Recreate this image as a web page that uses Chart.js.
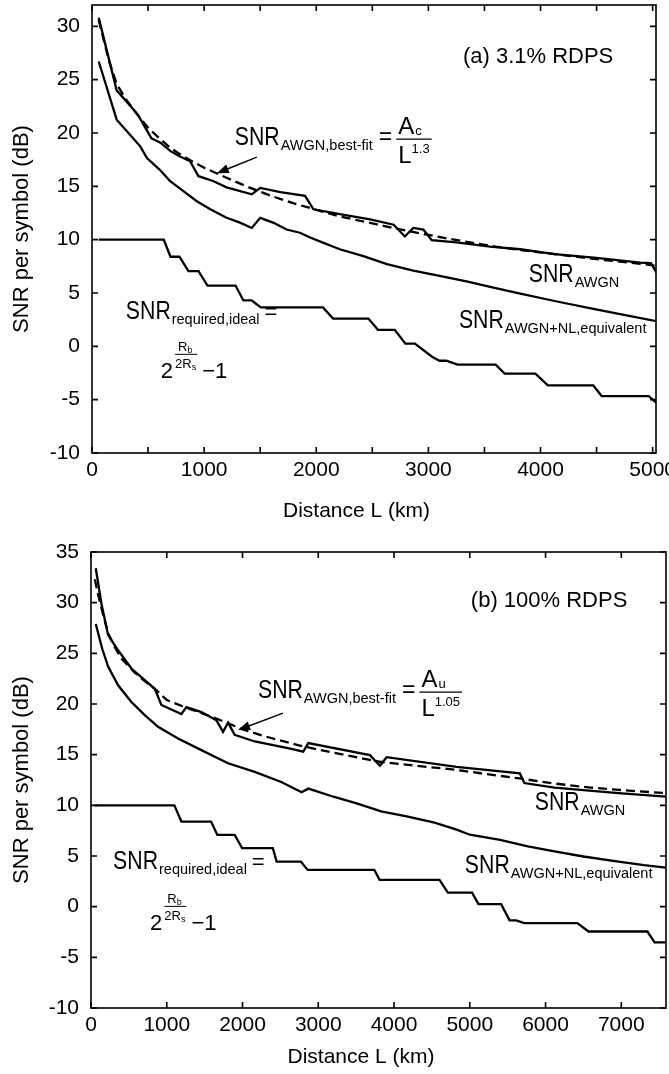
<!DOCTYPE html>
<html>
<head>
<meta charset="utf-8">
<script src="https://cdn.jsdelivr.net/npm/chart.js@4.4.1/dist/chart.umd.min.js"></script>
<style>
    body { margin: 0; background: #fff; }
    .panel { width: 669px; }
</style>
</head>
<body>
<div class="panel"><canvas id="chartA" width="669" height="530"></canvas></div>
<div class="panel"><canvas id="chartB" width="669" height="544"></canvas></div>
<script>
// ---- panel (a): 3.1% RDPS ----
const kmAwgnA = [60, 220, 370, 415, 530, 610, 700, 785, 875, 950, 1080, 1200, 1425, 1500, 1680, 1900, 1975, 2210, 2480, 2690, 2790, 2865, 2955, 3030, 3250, 3550, 3820, 4125, 4500, 4890, 4985, 5035];
const dbAwgnA = [30.8, 24.0, 22.2, 21.6, 19.5, 19.1, 18.3, 17.8, 17.35, 15.95, 15.5, 14.9, 14.25, 14.85, 14.45, 14.1, 12.85, 12.4, 11.9, 11.4, 10.3, 11.1, 10.95, 9.95, 9.75, 9.35, 9.1, 8.65, 8.3, 7.85, 7.8, 6.9];

const kmFitA = [60, 150, 220, 300, 400, 500, 600, 700, 800, 900, 1000, 1200, 1400, 1600, 1800, 2000, 2200, 2400, 2600, 2800, 3000, 3200, 3400, 3600, 3800, 4000, 4200, 4400, 4600, 4800, 5035];
const dbFitA = [30.6, 26.8, 24.6, 23.2, 21.8, 20.5, 19.5, 18.6, 17.9, 17.3, 16.75, 15.8, 14.9, 14.1, 13.4, 12.8, 12.2, 11.75, 11.3, 10.85, 10.45, 10.05, 9.7, 9.35, 9.05, 8.8, 8.55, 8.3, 8.05, 7.85, 7.55];

const kmNlA = [60, 220, 325, 430, 490, 605, 695, 815, 935, 1055, 1200, 1320, 1425, 1500, 1615, 1735, 1855, 1945, 2065, 2210, 2420, 2630, 2865, 3100, 3340, 3580, 3820, 4125, 4505, 5035];
const dbNlA = [26.7, 21.25, 20.0, 18.75, 17.65, 16.55, 15.5, 14.55, 13.6, 12.85, 12.05, 11.6, 11.1, 12.05, 11.6, 10.95, 10.65, 10.2, 9.7, 9.1, 8.45, 7.7, 7.1, 6.6, 6.1, 5.5, 4.95, 4.25, 3.45, 2.35];

const kmReqA = [60, 640, 700, 780, 860, 950, 1030, 1280, 1350, 1425, 1505, 2060, 2150, 2465, 2550, 2700, 2795, 2880, 3035, 3100, 3160, 3260, 3600, 3680, 3955, 4065, 4470, 4545, 4965, 5035];
const dbReqA = [10, 10, 8.4, 8.4, 7.05, 7.05, 5.7, 5.7, 4.3, 4.3, 3.65, 3.65, 2.6, 2.6, 1.55, 1.55, 0.25, 0.25, -1.0, -1.35, -1.35, -1.72, -1.72, -2.56, -2.56, -3.66, -3.66, -4.66, -4.66, -5.3];

const xTicksA = [0, 500, 1000, 1500, 2000, 2500, 3000, 3500, 4000, 4500, 5000];
const yTicksA = [-10, -5, 0, 5, 10, 15, 20, 25, 30];

// ---- panel (b): 100% RDPS ----
const kmAwgnB = [63, 138, 226, 358, 533, 710, 842, 929, 1193, 1259, 1457, 1654, 1743, 1809, 1897, 2161, 2630, 2802, 2868, 3682, 3814, 3902, 4826, 5661, 5720, 6118, 6962, 7590];
const dbAwgnB = [33.4, 29.9, 26.8, 25.3, 23.5, 22.35, 21.5, 19.9, 19.0, 19.7, 19.2, 18.4, 17.25, 18.15, 16.95, 16.3, 15.6, 15.3, 16.15, 14.95, 13.9, 14.75, 13.8, 13.15, 12.2, 11.75, 11.2, 10.85];

const kmFitB = [50, 100, 150, 226, 300, 400, 578, 700, 842, 1000, 1200, 1457, 1677, 2000, 2300, 2732, 3000, 3400, 3814, 4300, 4826, 5200, 5661, 6118, 6600, 7100, 7590];
const dbFitB = [32.3, 30.6, 29.1, 27.0, 25.8, 24.5, 23.1, 22.3, 21.5, 20.4, 19.8, 19.1, 18.5, 17.5, 16.8, 15.95, 15.5, 14.9, 14.3, 13.9, 13.5, 13.1, 12.65, 12.15, 11.75, 11.45, 11.2];

const kmNlB = [63, 150, 226, 358, 533, 710, 885, 1149, 1457, 1809, 2161, 2512, 2780, 2868, 3200, 3506, 3830, 4166, 4535, 4826, 5000, 5400, 5766, 6118, 6500, 6962, 7300, 7590];
const dbNlB = [27.9, 25.4, 23.7, 21.85, 20.2, 18.9, 17.75, 16.6, 15.45, 14.15, 13.3, 12.3, 11.3, 11.65, 10.85, 10.2, 9.4, 8.9, 8.3, 7.6, 7.1, 6.6, 5.95, 5.45, 4.95, 4.45, 4.1, 3.85];

const kmReqB = [50, 1100, 1193, 1585, 1668, 1897, 1995, 2400, 2450, 2770, 2860, 3740, 3810, 4600, 4711, 5030, 5115, 5414, 5525, 5610, 5720, 6420, 6567, 7344, 7440, 7590];
const dbReqB = [10, 10, 8.4, 8.4, 7.08, 7.08, 5.77, 5.77, 4.45, 4.45, 3.63, 3.63, 2.64, 2.64, 1.39, 1.39, 0.25, 0.25, -1.35, -1.35, -1.63, -1.63, -2.45, -2.45, -3.53, -3.53];

const xTicksB = [0, 1000, 2000, 3000, 4000, 5000, 6000, 7000];
const yTicksB = [-10, -5, 0, 5, 10, 15, 20, 25, 30, 35];

// text labels, anchored in data units (km, dB)
const notesA = [
    { type: "plain", km: 3308, db: 27.1, text: "(a) 3.1% RDPS" },
    { type: "fit", km: 1274, db: 18.86, num: "A", numSub: "c", exp: "1.3" },
    { type: "arrow", from: [1470, 17.73], to: [1113, 16.23] },
    { type: "snr", km: 3896, db: 6.0, sub: "AWGN" },
    { type: "snr", km: 3272, db: 1.69, sub: "AWGN+NL,equivalent" },
    { type: "req", km: 302, db: 2.53 },
    { type: "pow", km: 614, db: -3.0 },
];
const notesB = [
    { type: "plain", km: 5014, db: 30.14, text: "(b) 100% RDPS" },
    { type: "fit", km: 2204, db: 20.58, num: "A", numSub: "u", exp: "1.05" },
    { type: "arrow", from: [2534, 19.1], to: [1941, 17.43] },
    { type: "snr", km: 5858, db: 9.54, sub: "AWGN" },
    { type: "snr", km: 4935, db: 3.33, sub: "AWGN+NL,equivalent" },
    { type: "req", km: 292, db: 3.73 },
    { type: "pow", km: 780, db: -2.34 },
];

const FAMILY = '"Liberation Sans", Arial, sans-serif';
Chart.defaults.font.family = FAMILY;
Chart.defaults.color = "#000";

function pts(xs, ys) {
    return xs.map((x, i) => ({ x: x, y: ys[i] }));
}

function line(xs, ys, dashed) {
    return {
        data: pts(xs, ys),
        borderColor: "#000",
        borderWidth: 2.3,
        borderDash: dashed ? [9, 5] : [],
        pointRadius: 0,
        fill: false,
        tension: 0,
    };
}

function text(ctx, s, x, y, size, sx) {
    sx = sx || 1;
    ctx.save();
    ctx.font = size + "px " + FAMILY;
    ctx.translate(x, y);
    ctx.scale(sx, 1);
    ctx.fillText(s, 0, 0);
    const w = ctx.measureText(s).width * sx;
    ctx.restore();
    return w;
}

function snr(ctx, x, y, sub) {
    const w = text(ctx, "SNR", x, y, 25, 0.85);
    const ws = text(ctx, sub, x + w + 1, y + 5, 14.5);
    return x + w + 1 + ws;
}

function drawNote(ctx, sx, sy, n) {
    ctx.fillStyle = "#000";
    ctx.strokeStyle = "#000";
    ctx.textAlign = "left";
    ctx.textBaseline = "alphabetic";
    if (n.type === "arrow") {
        const x1 = sx.getPixelForValue(n.from[0]), y1 = sy.getPixelForValue(n.from[1]);
        const x2 = sx.getPixelForValue(n.to[0]), y2 = sy.getPixelForValue(n.to[1]);
        const a = Math.atan2(y2 - y1, x2 - x1);
        ctx.lineWidth = 1.4;
        ctx.beginPath();
        ctx.moveTo(x1, y1);
        ctx.lineTo(x2 - 8 * Math.cos(a), y2 - 8 * Math.sin(a));
        ctx.stroke();
        ctx.beginPath();
        ctx.moveTo(x2, y2);
        ctx.lineTo(x2 - 12 * Math.cos(a) + 4.5 * Math.sin(a), y2 - 12 * Math.sin(a) - 4.5 * Math.cos(a));
        ctx.lineTo(x2 - 12 * Math.cos(a) - 4.5 * Math.sin(a), y2 - 12 * Math.sin(a) + 4.5 * Math.cos(a));
        ctx.closePath();
        ctx.fill();
        return;
    }
    const x = sx.getPixelForValue(n.km);
    const y = sy.getPixelForValue(n.db);
    if (n.type === "plain") {
        ctx.textBaseline = "middle";
        text(ctx, n.text, x, y, 22);
    } else if (n.type === "snr") {
        snr(ctx, x, y, n.sub);
    } else if (n.type === "req") {
        const e = snr(ctx, x, y, "required,ideal");
        text(ctx, "=", e + 5, y, 22);
    } else if (n.type === "fit") {
        const e = snr(ctx, x, y, "AWGN,best-fit");
        const we = text(ctx, "=", e + 6, y - 1, 23);
        const fx = e + 6 + we + 4;
        const bar = y - 6;
        const wa = text(ctx, n.num, fx + 2, y - 11, 24);
        const wn = text(ctx, n.numSub, fx + 2 + wa + 1, y - 10, 13);
        const wl = text(ctx, "L", fx + 2, y + 18, 24);
        const wx = text(ctx, n.exp, fx + 2 + wl, y + 8, 13);
        const bw = Math.max(wa + wn + 1, wl + wx) + 4;
        ctx.lineWidth = 1.2;
        ctx.beginPath();
        ctx.moveTo(fx, bar);
        ctx.lineTo(fx + bw, bar);
        ctx.stroke();
    } else if (n.type === "pow") {
        const w2 = text(ctx, "2", x, y, 22);
        const ex = x + w2 + 2;
        const wr = text(ctx, "R", ex + 3, y - 27, 13);
        text(ctx, "b", ex + 3 + wr, y - 25, 9);
        const w2r = text(ctx, "2R", ex, y - 10, 13);
        const ws = text(ctx, "s", ex + w2r, y - 8, 9);
        const bw = w2r + ws + 1;
        ctx.lineWidth = 1;
        ctx.beginPath();
        ctx.moveTo(ex, y - 24);
        ctx.lineTo(ex + bw, y - 24);
        ctx.stroke();
        text(ctx, "\u22121", ex + bw + 5, y, 22);
    }
}

function makeFrame(notes) {
    return {
        id: "frame",
        afterDatasetsDraw(chart) {
            const { ctx, chartArea: a, scales } = chart;
            const sx = scales.x, sy = scales.y;
            ctx.save();
            ctx.strokeStyle = "#000";
            ctx.lineWidth = 1.6;
            ctx.strokeRect(a.left, a.top, a.right - a.left, a.bottom - a.top);
            ctx.beginPath();
            sx.ticks.forEach((t) => {
                const p = sx.getPixelForValue(t.value);
                ctx.moveTo(p, a.bottom);
                ctx.lineTo(p, a.bottom - 6);
                ctx.moveTo(p, a.top);
                ctx.lineTo(p, a.top + 6);
            });
            sy.ticks.forEach((t) => {
                const p = sy.getPixelForValue(t.value);
                ctx.moveTo(a.left, p);
                ctx.lineTo(a.left + 6, p);
                ctx.moveTo(a.right, p);
                ctx.lineTo(a.right - 6, p);
            });
            ctx.stroke();
            notes.forEach((n) => drawNote(ctx, sx, sy, n));
            ctx.restore();
        },
    };
}

function makePanel(canvasId, cfg) {
    const canvas = document.getElementById(canvasId);
    return new Chart(canvas, {
        type: "line",
        data: {
            datasets: [
                line(cfg.awgn[0], cfg.awgn[1], false),
                line(cfg.fit[0], cfg.fit[1], true),
                line(cfg.nl[0], cfg.nl[1], false),
                line(cfg.req[0], cfg.req[1], false),
            ],
        },
        options: {
            responsive: false,
            animation: false,
            devicePixelRatio: 1,
            layout: { padding: { top: cfg.top, right: cfg.right, left: 0, bottom: 0 } },
            plugins: { legend: { display: false }, tooltip: { enabled: false } },
            scales: {
                x: {
                    type: "linear",
                    min: 0,
                    max: cfg.xMax,
                    grid: { display: false, drawTicks: false },
                    border: { display: false },
                    afterBuildTicks: (scale) => {
                        scale.ticks = cfg.xTicks.map((v) => ({ value: v }));
                    },
                    afterFit: (scale) => {
                        scale.height = cfg.xHeight;
                        scale.paddingLeft = 0;
                        scale.paddingRight = 0;
                    },
                    ticks: {
                        autoSkip: false,
                        maxRotation: 0,
                        padding: 5,
                        font: { size: 21 },
                        callback: (v) => (v % 1000 === 0 ? String(v) : ""),
                    },
                    title: {
                        display: true,
                        text: "Distance L (km)      ",
                        font: { size: 21 },
                        padding: { top: 0, bottom: cfg.titlePad },
                    },
                },
                y: {
                    min: -10,
                    max: cfg.yMax,
                    grid: { display: false, drawTicks: false },
                    border: { display: false },
                    afterBuildTicks: (scale) => {
                        scale.ticks = cfg.yTicks.map((v) => ({ value: v }));
                    },
                    afterFit: (scale) => {
                        scale.width = cfg.left;
                        scale.paddingTop = 0;
                        scale.paddingBottom = 0;
                    },
                    ticks: { padding: 12, font: { size: 21 } },
                    title: {
                        display: true,
                        text: "SNR per symbol (dB)",
                        font: { size: 22 },
                        padding: { top: 9, bottom: 0 },
                    },
                },
            },
        },
        plugins: [makeFrame(cfg.notes)],
    });
}

makePanel("chartA", {
    awgn: [kmAwgnA, dbAwgnA],
    fit: [kmFitA, dbFitA],
    nl: [kmNlA, dbNlA],
    req: [kmReqA, dbReqA],
    xTicks: xTicksA,
    yTicks: yTicksA,
    xMax: 5030,
    yMax: 32,
    left: 92,
    right: 13,
    top: 5,
    xHeight: 77,
    titlePad: 5.7,
    notes: notesA,
});

makePanel("chartB", {
    awgn: [kmAwgnB, dbAwgnB],
    fit: [kmFitB, dbFitB],
    nl: [kmNlB, dbNlB],
    req: [kmReqB, dbReqB],
    xTicks: xTicksB,
    yTicks: yTicksB,
    xMax: 7590,
    yMax: 35,
    left: 91,
    right: 3,
    top: 22,
    xHeight: 66,
    titlePad: 4.4,
    notes: notesB,
});
</script>
</body>
</html>
